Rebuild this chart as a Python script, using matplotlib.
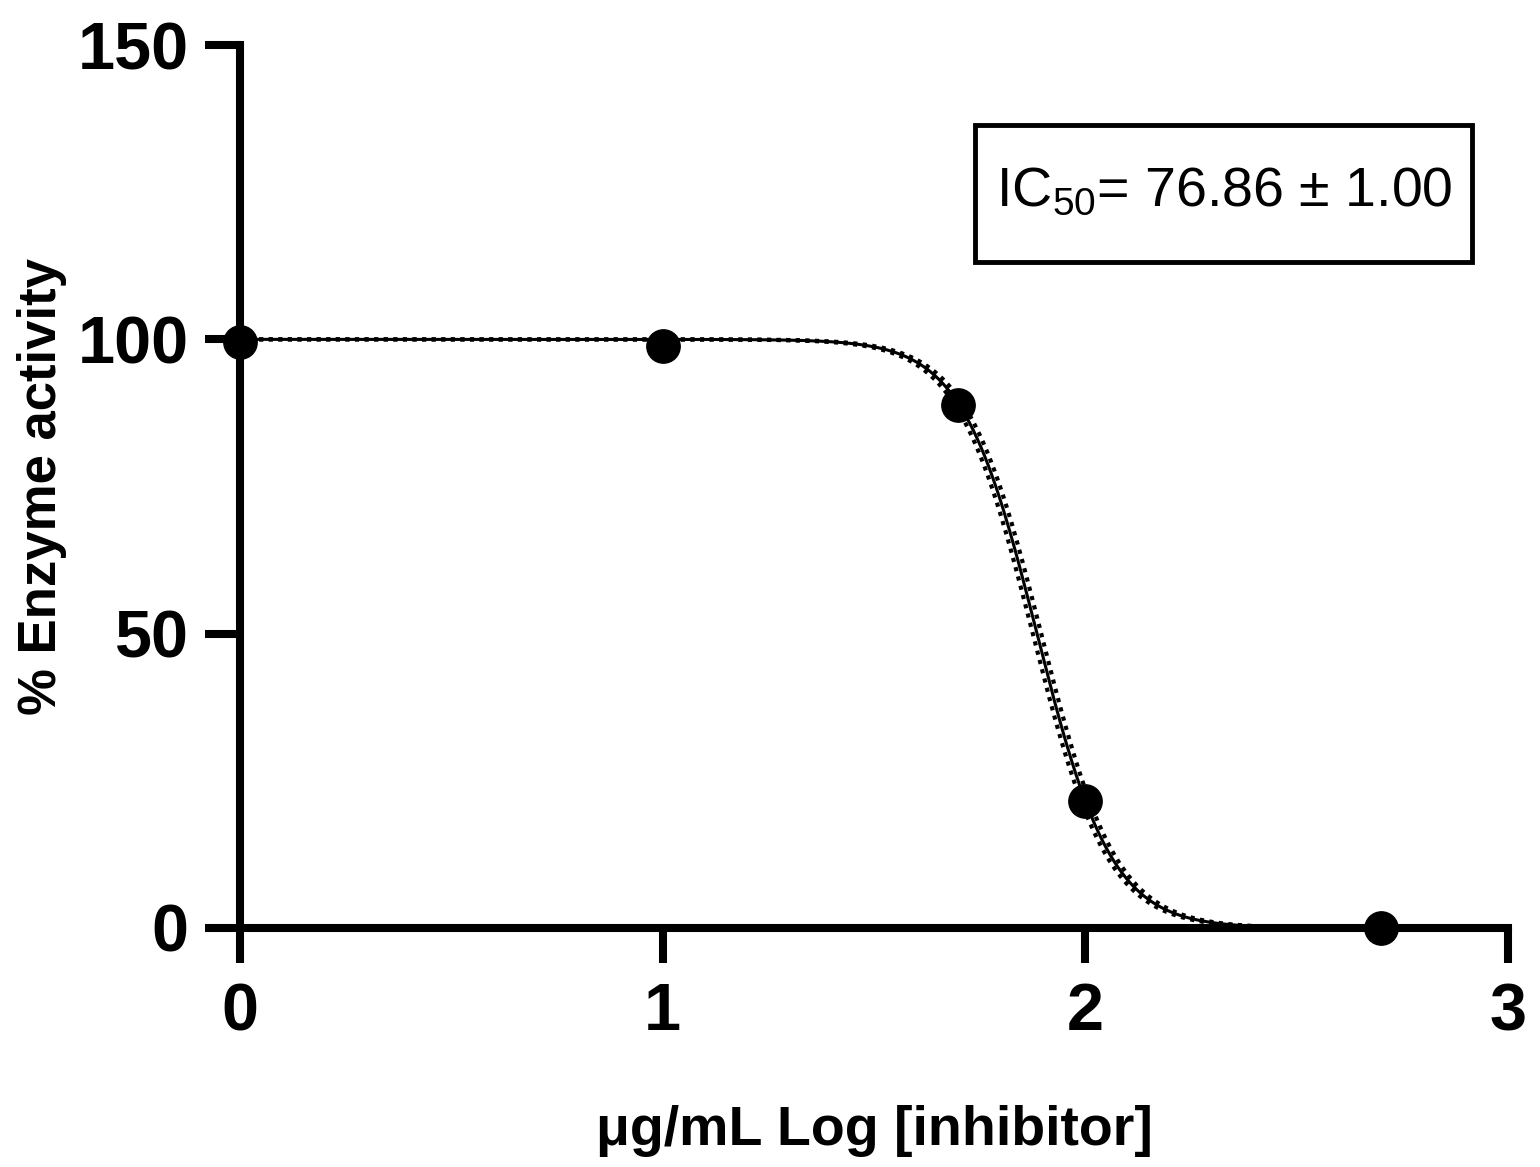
import numpy as np
import matplotlib
matplotlib.use('Agg')
import matplotlib.pyplot as plt
from matplotlib.patches import Rectangle

plt.rcParams['font.family'] = ['Liberation Sans', 'DejaVu Sans']

# Data
log_conc = [0.0, 1.0, 1.699, 2.0, 2.699]
activity = [99.5, 98.8, 88.8, 21.5, 0.0]

# Fitted dose-response parameters
top = 100.0
bottom = 0.0
ic50 = 76.86
hill = -4.9
band = 0.01  # shift of the dotted confidence curves (log units)

x_ticks = [0, 1, 2, 3]
y_ticks = [0, 50, 100, 150]


def response(x, logic50):
    return bottom + (top - bottom) / (1 + 10 ** ((logic50 - x) * hill))


fig = plt.figure(figsize=(15.4, 11.67), dpi=100)
ax = fig.add_axes([0.1558, 0.2048, 0.8234, 0.7566])

xs = np.linspace(log_conc[0], log_conc[-1], 600)
logic50 = np.log10(ic50)
ax.plot(xs, response(xs, logic50 - band), color='black', lw=3, ls=(0, (1, 1.3)), clip_on=False)
ax.plot(xs, response(xs, logic50 + band), color='black', lw=3, ls=(0, (1, 1.3)), clip_on=False)
ax.plot(xs, response(xs, logic50), color='black', lw=2.2, clip_on=False)
ax.plot(log_conc, activity, 'o', color='black', ms=24, clip_on=False, zorder=5)

ax.set_xlim(0, 3)
ax.set_ylim(0, 150)
ax.set_xticks(x_ticks)
ax.set_yticks(y_ticks)
for side in ['top', 'right']:
    ax.spines[side].set_visible(False)
for side in ['left', 'bottom']:
    ax.spines[side].set_linewidth(5.8)
ax.tick_params(axis='both', width=5.8, length=25, labelsize=48)
ax.tick_params(axis='y', pad=12)
ax.tick_params(axis='x', pad=14)
for lab in ax.get_xticklabels() + ax.get_yticklabels():
    lab.set_fontweight('bold')

ax.set_xlabel('μg/mL Log [inhibitor]', fontsize=40, fontweight='bold')
ax.set_ylabel('% Enzyme activity', fontsize=38, fontweight='bold')
ax.xaxis.set_label_coords(0.5, -0.2)
ax.yaxis.set_label_coords(-0.136, 0.5)

# IC50 box
ax.add_patch(Rectangle((0.58, 0.754), 0.392, 0.155, transform=ax.transAxes,
                       fc='white', ec='black', lw=3.5, clip_on=False, zorder=6))
ax.text(0.776, 0.834, r'IC$_{\mathregular{50}}$= 76.86 ± 1.00', transform=ax.transAxes,
        fontsize=40, ha='center', va='center', zorder=7)

fig.savefig('out.png', dpi=100)
